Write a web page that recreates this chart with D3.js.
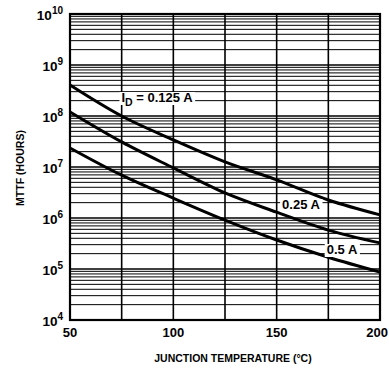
<!DOCTYPE html>
<html><head><meta charset="utf-8">
<script src="https://cdn.jsdelivr.net/npm/d3@7"></script>
<style>body{margin:0;background:#fff}svg{display:block}text{font-family:"Liberation Sans",Arial,sans-serif;font-weight:bold;fill:#000}</style>
</head><body>
<svg id="c" width="389" height="370"></svg>
<script>
const temps = [50, 75, 100, 125, 150, 175, 200];
const mttf0125 = [4.06e8, 1.0e8, 3.4e7, 1.26e7, 5.6e6, 2.25e6, 1.15e6];
const mttf025 = [1.2e8, 3.1e7, 9.6e6, 3.1e6, 1.3e6, 5.8e5, 3.25e5];
const mttf05 = [2.36e7, 6.9e6, 2.45e6, 9.1e5, 3.7e5, 1.7e5, 8.7e4];
const xTicks = [50, 100, 150, 200];
const xGrid = [75, 100, 125, 150, 175];
const yExps = [4, 5, 6, 7, 8, 9, 10];
const seriesLabels = ["0.125 A", "0.25 A", "0.5 A"];

const W = 389;
const svg = d3.select("#c");
const L = 70, R = 380, T = 14, B = 320;
const x = d3.scaleLinear().domain([50, 200]).range([L, R]);
const y = d3.scaleLog().domain([1e4, 1e10]).range([B, T]);

const g = svg.append("g");
// minor horizontal grid
const minors = [];
for (let e = 4; e < 10; e++) for (let m = 2; m <= 9; m++) minors.push(m * Math.pow(10, e));
g.selectAll(".minor").data(minors).join("line")
  .attr("x1", L).attr("x2", R).attr("y1", d => y(d)).attr("y2", d => y(d))
  .attr("stroke", "#000").attr("stroke-width", 1);
g.selectAll(".major").data(yExps).join("line")
  .attr("x1", L).attr("x2", R).attr("y1", d => y(Math.pow(10, d))).attr("y2", d => y(Math.pow(10, d)))
  .attr("stroke", "#000").attr("stroke-width", 1.6);
g.selectAll(".vg").data(xGrid).join("line")
  .attr("x1", d => x(d)).attr("x2", d => x(d)).attr("y1", T).attr("y2", B)
  .attr("stroke", "#000").attr("stroke-width", 1.6);
g.append("rect").attr("x", L).attr("y", T).attr("width", R - L).attr("height", B - T)
  .attr("fill", "none").attr("stroke", "#000").attr("stroke-width", 2.2);

// curves
const line = d3.line().x(d => x(d[0])).y(d => y(d[1])).curve(d3.curveMonotoneX);
[mttf0125, mttf025, mttf05].forEach(s => {
  g.append("path").datum(temps.map((t, i) => [t, s[i]])).attr("d", line)
    .attr("fill", "none").attr("stroke", "#000").attr("stroke-width", 3);
});

// labels with white boxes
function label(cx, cy, parts) {
  const t = g.append("text").attr("x", cx).attr("y", cy).attr("font-size", 13).attr("text-anchor", "middle");
  parts.forEach(p => {
    const ts = t.append("tspan").text(p.t);
    if (p.sub) ts.attr("font-size", 10.5).attr("dy", 4);
    if (p.back) ts.attr("dy", -4);
  });
  const bb = t.node().getBBox();
  g.insert("rect", () => t.node()).attr("x", bb.x - 2).attr("y", cy - 10).attr("width", bb.width + 4).attr("height", 13).attr("fill", "#fff");
}
label(157, 102, [{t: "I"}, {t: "D", sub: true}, {t: " = " + seriesLabels[0], back: true}]);
label(301, 209, [{t: seriesLabels[1]}]);
label(342, 254, [{t: seriesLabels[2]}]);

// x tick labels (kept inside the window)
g.selectAll(".xt").data(xTicks).join("text")
  .attr("y", 337).attr("text-anchor", "middle").attr("font-size", 13)
  .text(d => d)
  .attr("x", function(d) {
    const w = this.getComputedTextLength();
    return Math.min(x(d), W - 1 - w / 2);
  });
// y tick labels
yExps.forEach(e => {
  const t = g.append("text").attr("x", 63).attr("y", y(Math.pow(10, e)) + 6).attr("text-anchor", "end").attr("font-size", 13.5);
  t.append("tspan").text("10");
  t.append("tspan").text(e).attr("font-size", 10).attr("dy", -6);
});
// axis titles
svg.append("text").attr("transform", "translate(24,168) rotate(-90)").attr("text-anchor", "middle")
  .attr("font-size", 10.5).text("MTTF (HOURS)");
svg.append("text").attr("x", 233).attr("y", 362).attr("text-anchor", "middle")
  .attr("font-size", 10.5).text("JUNCTION TEMPERATURE (°C)");
</script>
</body></html>
